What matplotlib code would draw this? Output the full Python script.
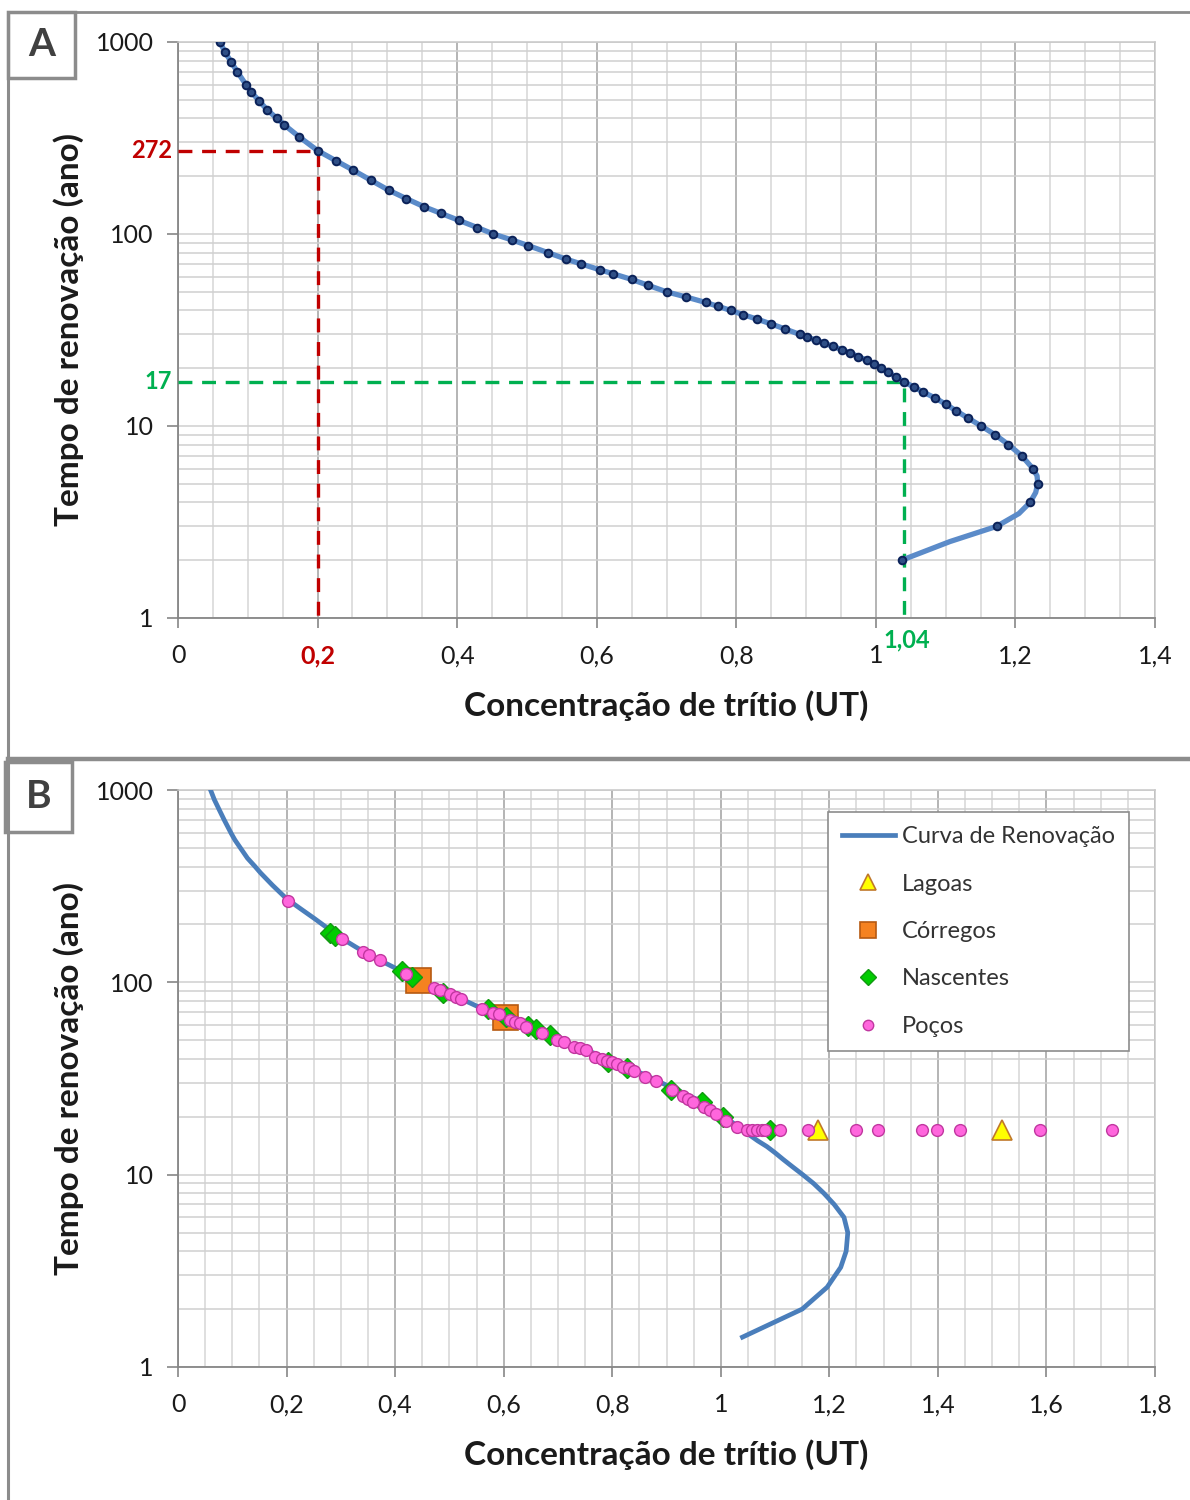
import matplotlib
matplotlib.use("Agg")
import matplotlib.pyplot as plt
from matplotlib.lines import Line2D
from matplotlib.patches import Rectangle
from matplotlib.ticker import FixedLocator, MultipleLocator, NullFormatter, LogLocator
import matplotlib.transforms as mtransforms

plt.rcParams['font.family'] = ['Lato', 'DejaVu Sans']
plt.rcParams['lines.scale_dashes'] = False

W, H = 1190, 1500

curve_t = [2, 2.5, 3, 3.5, 4, 4.5, 5, 5.5, 6, 7, 8, 9, 10, 11, 12, 13, 14, 15, 16,
           17, 18, 19, 20, 21, 22, 23, 24, 25, 26, 27, 28, 29, 30, 32, 34, 36, 38,
           40, 42, 44, 47, 50, 54, 58, 62, 65, 70, 74, 80, 87, 93, 100, 108, 118,
           128, 139, 153, 169, 190, 215, 240, 272, 320, 371, 400, 442, 495, 549, 595,
           700, 789, 890, 1000]
curve_c = [1.037, 1.106, 1.173, 1.205, 1.221, 1.229, 1.232, 1.231, 1.225, 1.209, 1.190,
           1.171, 1.151, 1.132, 1.115, 1.100, 1.085, 1.068, 1.054,
           1.040, 1.029, 1.018, 1.008, 0.998, 0.987, 0.975, 0.963, 0.951, 0.938, 0.926,
           0.914, 0.902, 0.891, 0.870, 0.850, 0.830, 0.810,
           0.792, 0.774, 0.756, 0.728, 0.700, 0.674, 0.650, 0.624, 0.605, 0.577, 0.556,
           0.530, 0.502, 0.479, 0.452, 0.429, 0.402,
           0.377, 0.352, 0.327, 0.302, 0.277, 0.251, 0.227, 0.200, 0.174, 0.152, 0.142,
           0.128, 0.116, 0.105, 0.098,
           0.085, 0.076, 0.067, 0.060]

# no gráfico B o ramo inferior da curva desce mais
curveB_low_t = [1.43, 2.0, 2.6, 3.3, 4.0, 5.0, 6.0]
curveB_low_c = [1.040, 1.150, 1.196, 1.221, 1.231, 1.234, 1.227]

# amostras (painel B)
lagoas_c = [1.180, 1.519]
lagoas_t = [17, 17]

corregos_c = [0.443, 0.602]
corregos_t = [103, 66.3]

nascentes_c = [0.280, 0.289, 0.412, 0.432, 0.489, 0.572, 0.605, 0.645, 0.660, 0.685,
               0.793, 0.828, 0.909, 0.965, 1.005, 1.091]
nascentes_t = [180, 174, 114, 107, 87.7, 73, 66, 59.5, 57.5, 53, 38.7, 35.8, 27.6, 24,
               19.9, 17]

pocos_c = [0.203, 0.302, 0.341, 0.352, 0.372, 0.420, 0.472, 0.482, 0.501, 0.512, 0.521,
           0.561, 0.581, 0.591, 0.612, 0.621, 0.630, 0.642, 0.670, 0.699, 0.712, 0.730,
           0.741, 0.751, 0.768, 0.781, 0.790, 0.799, 0.808, 0.819, 0.830, 0.840, 0.860,
           0.881, 0.911, 0.930, 0.940, 0.949, 0.969, 0.980, 0.991, 1.009, 1.030,
           1.048, 1.058, 1.067, 1.076, 1.082, 1.109, 1.161, 1.249, 1.289, 1.370, 1.398,
           1.441, 1.588, 1.720]
pocos_t = [266, 168, 143, 139, 131, 110, 94, 91, 86.7, 83.6, 82,
           72.5, 69, 68.3, 63.7, 62, 61.3, 58.4, 54.3, 50.1, 49, 46.3,
           45.4, 44.5, 41.1, 40, 39.2, 38.4, 37.5, 36.5, 35.8, 34.8, 32.3,
           30.7, 27.6, 25.7, 24.8, 24, 22.4, 21.7, 20.7, 19.1, 17.8,
           17, 17, 17, 17, 17, 17, 17, 17, 17, 17, 17,
           17, 17, 17]

xticksA = [0, 0.2, 0.4, 0.6, 0.8, 1.0, 1.2, 1.4]
xticksB = [0, 0.2, 0.4, 0.6, 0.8, 1.0, 1.2, 1.4, 1.6, 1.8]
yticks = [1, 10, 100, 1000]

RED = '#C00000'
GREEN = '#00B050'
TXT = '#1A1A1A'


def fmt(v):
    s = ('%.1f' % v).rstrip('0').rstrip('.')
    return s.replace('.', ',')


def style_axes(ax, xmax, xticks):
    ax.set_yscale('log')
    ax.set_ylim(1, 1000)
    ax.set_xlim(0, xmax)
    ax.set_xticks(xticks, [fmt(v) for v in xticks])
    ax.xaxis.set_minor_locator(MultipleLocator(0.05))
    ax.yaxis.set_major_locator(FixedLocator(yticks))
    ax.set_yticklabels([str(v) for v in yticks])
    ax.yaxis.set_minor_locator(LogLocator(base=10, subs=range(2, 10)))
    ax.yaxis.set_minor_formatter(NullFormatter())
    ax.tick_params(axis='both', which='major', labelsize=18, colors='#868686',
                   labelcolor=TXT, width=1.2)
    ax.tick_params(axis='x', which='major', length=7, pad=12)
    ax.tick_params(axis='y', which='major', length=8, pad=9.5)
    ax.tick_params(which='minor', length=0)
    ax.grid(which='major', axis='x', color='#A0A0A0', lw=1.1)
    ax.grid(which='minor', axis='x', color='#D6D6D6', lw=1.1)
    ax.grid(which='both', axis='y', color='#D0D0D0', lw=1.1)
    ax.set_axisbelow(True)
    for s in ['left', 'bottom']:
        ax.spines[s].set_color('#868686')
        ax.spines[s].set_linewidth(1.3)
    for s in ['top', 'right']:
        ax.spines[s].set_color('#C8C8C8')
        ax.spines[s].set_linewidth(1.1)
    ax.set_xlabel('Concentração de trítio (UT)', fontsize=24, fontweight='bold', color=TXT)
    ax.set_ylabel('Tempo de renovação (ano)', fontsize=24, fontweight='bold', color=TXT)
    ax.xaxis.set_label_coords(0.5, -0.125)
    ax.yaxis.set_label_coords(-0.096, 0.5)


fig = plt.figure(figsize=(W / 100, H / 100), dpi=100)

axA = fig.add_axes([178 / W, 1 - 618 / H, 977 / W, 576 / H])
axB = fig.add_axes([178 / W, 1 - 1367 / H, 977 / W, 577 / H])

# ---- painel A
style_axes(axA, 1.4, xticksA)
lab = axA.get_xticklabels()
lab[1].set_color(RED)
lab[1].set_fontweight('bold')

axA.plot([0, 0.2, 0.2], [272, 272, 1], color=RED, lw=2.4, dashes=(10, 7), zorder=3)
axA.plot([0, 1.04, 1.04], [17, 17, 1], color=GREEN, lw=2.4, dashes=(10, 7), zorder=3)
marks = [i for i, t in enumerate(curve_t) if t == int(t)]
axA.plot(curve_c, curve_t, color='#5B8BC9', lw=3.8, marker='o', ms=5.5, markevery=marks,
         mfc='#2F4F86', mec='#0B2259', mew=1.4, zorder=5)

trA = mtransforms.blended_transform_factory(axA.transAxes, axA.transData)
axA.text(-0.006, 272, '272', transform=trA, ha='right', va='center', color=RED,
         fontsize=17, fontweight='bold')
axA.text(-0.006, 17, '17', transform=trA, ha='right', va='center', color=GREEN,
         fontsize=17, fontweight='bold')
trA2 = mtransforms.blended_transform_factory(axA.transData, axA.transAxes)
axA.text(1.045, -0.038, '1,04', transform=trA2, ha='center', va='center', color=GREEN,
         fontsize=17, fontweight='bold')

# ---- painel B
style_axes(axB, 1.8, xticksB)
k = curve_t.index(7)
axB.plot(curveB_low_c + curve_c[k:], curveB_low_t + curve_t[k:], color='#4A7EBB',
         lw=3.4, zorder=3)
axB.plot(lagoas_c, lagoas_t, ls='none', marker='^', ms=14, mfc='#FFFF00', mec='#C0782A',
         mew=1.2, zorder=4)
axB.plot(corregos_c, corregos_t, ls='none', marker='s', ms=18, mfc='#F58220', mec='#B65A12',
         mew=1.2, zorder=5)
axB.plot(nascentes_c, nascentes_t, ls='none', marker='D', ms=10.5, mfc='#00CC00',
         mec='#119911', mew=1.0, zorder=6)
axB.plot(pocos_c, pocos_t, ls='none', marker='o', ms=8.5, mfc='#FF66DD', mec='#C0379F',
         mew=1.0, zorder=7)

handles = [
    Line2D([], [], color='#4A7EBB', lw=3.4),
    Line2D([], [], ls='none', marker='^', ms=12, mfc='#FFFF00', mec='#C0782A', mew=1.2),
    Line2D([], [], ls='none', marker='s', ms=12, mfc='#F58220', mec='#B65A12', mew=1.2),
    Line2D([], [], ls='none', marker='D', ms=8, mfc='#00CC00', mec='#119911', mew=1.0),
    Line2D([], [], ls='none', marker='o', ms=7.5, mfc='#FF66DD', mec='#C0379F', mew=1.0),
]
names = ['Curva de Renovação', 'Lagoas', 'Córregos', 'Nascentes', 'Poços']
leg = axB.legend(handles, names, loc='upper left', bbox_to_anchor=(0.665, 0.962),
                 fontsize=17, frameon=True, fancybox=False, framealpha=1,
                 edgecolor='#8C8C8C', labelspacing=1.12, handlelength=2.25,
                 handletextpad=0.3, borderpad=0.6, borderaxespad=0)
leg.get_frame().set_linewidth(1.2)
for t in leg.get_texts():
    t.set_color('#333333')


# ---- molduras dos painéis e letras
def fig_line(x0, y0, x1, y1, lw=2.5, color='#8C8C8C'):
    fig.add_artist(Line2D([x0 / W, x1 / W], [1 - y0 / H, 1 - y1 / H],
                          transform=fig.transFigure, color=color, lw=lw))


fig_line(8, 12, W, 12, lw=2)
fig_line(8, 12, 8, H, lw=2.2)
fig_line(8, 759, W, 759, lw=3.2)

for x0, y0, x1, y1, letter in [(8, 12, 75, 78, 'A'), (5, 762, 72, 832, 'B')]:
    fig.add_artist(Rectangle((x0 / W, 1 - y1 / H), (x1 - x0) / W, (y1 - y0) / H,
                             transform=fig.transFigure, facecolor='white',
                             edgecolor='#8C8C8C', lw=2.5))
    fig.text((x0 + x1) / 2 / W, 1 - (y0 + y1) / 2 / H, letter, ha='center', va='center',
             fontsize=28, fontweight='bold', color='#404040')

fig.savefig('out.png', dpi=100)
